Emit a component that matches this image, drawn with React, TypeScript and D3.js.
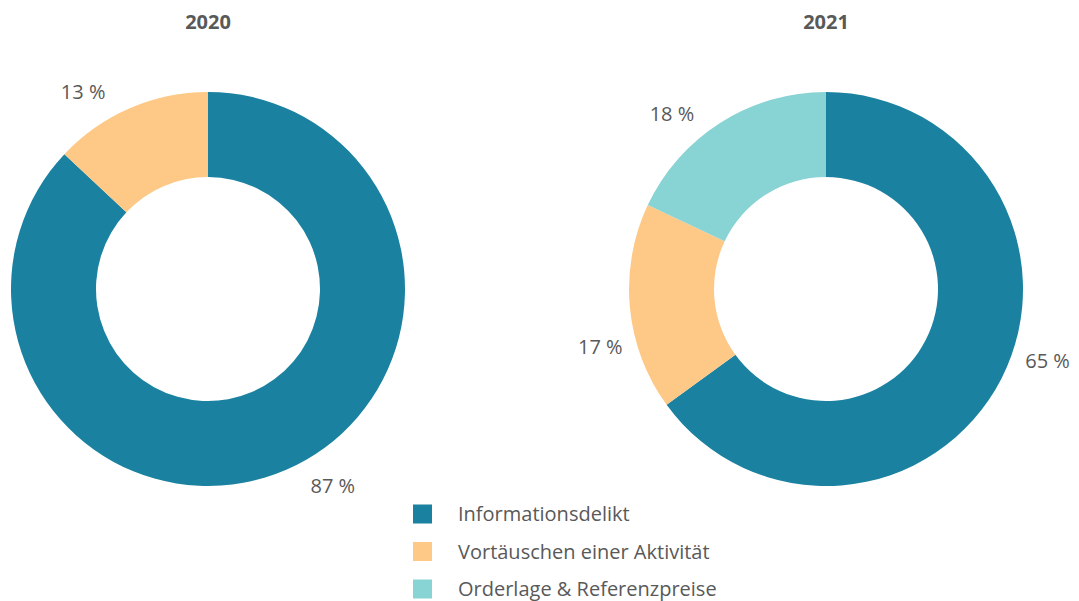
import React, { useEffect, useRef } from 'react';
import * as d3 from 'd3';

const categories = ['Informationsdelikt', 'Vortäuschen einer Aktivität', 'Orderlage & Referenzpreise'];
const colors = ['#1a82a0', '#fec986', '#88d3d3'];
const years = ['2020', '2021'];
const values2020 = [87, 13, 0];
const values2021 = [65, 17, 18];

const App = () => {
  const svgRef = useRef<SVGSVGElement>(null);

  useEffect(() => {
    document.body.style.margin = '0';
    const width = 1079;
    const height = 601;
    const font = '"Open Sans", "Noto Sans", sans-serif';
    const textColor = '#595959';

    const svg = d3.select(svgRef.current);
    svg.selectAll('*').remove();
    svg.attr('width', width).attr('height', height).style('display', 'block');

    const outer = 197;
    const inner = 112;
    const cx = d3.scalePoint().domain(years).range([208, 826]);
    const cy = 289;

    const color = d3.scaleOrdinal<string, string>().domain(categories).range(colors);

    const pie = d3.pie<number>().sort(null).value(d => d);
    const arc = d3.arc<d3.PieArcDatum<number>>().innerRadius(inner).outerRadius(outer);

    [values2020, values2021].forEach((vals, i) => {
      const year = years[i];
      const g = svg.append('g').attr('transform', `translate(${cx(year)},${cy})`);
      const arcs = pie(vals);

      g.selectAll('path')
        .data(arcs)
        .enter().append('path')
        .attr('d', arc)
        .attr('fill', (d, j) => color(categories[j]));

      // outside labels, slightly rotated back like the original layout
      const labelR = 233;
      const shift = (9 * Math.PI) / 180;
      g.selectAll('text.lbl')
        .data(arcs.filter(d => d.value > 0))
        .enter().append('text')
        .attr('class', 'lbl')
        .attr('x', d => Math.sin((d.startAngle + d.endAngle) / 2 - shift) * labelR)
        .attr('y', d => -Math.cos((d.startAngle + d.endAngle) / 2 - shift) * labelR)
        .attr('text-anchor', 'middle')
        .attr('dy', '0.35em')
        .attr('font-family', font)
        .attr('font-size', 20)
        .attr('fill', textColor)
        .text(d => `${d.value} %`);

      svg.append('text')
        .attr('x', cx(year))
        .attr('y', 29)
        .attr('text-anchor', 'middle')
        .attr('font-family', font)
        .attr('font-weight', 'bold')
        .attr('font-size', 20)
        .attr('fill', textColor)
        .text(year);
    });

    const legendY = d3.scalePoint().domain(categories).range([514, 589]);
    const legend = svg.append('g');
    categories.forEach(c => {
      legend.append('rect')
        .attr('x', 413)
        .attr('y', legendY(c)! - 9.5)
        .attr('width', 19)
        .attr('height', 19)
        .attr('fill', color(c));
      legend.append('text')
        .attr('x', 458)
        .attr('y', legendY(c)!)
        .attr('dy', '0.35em')
        .attr('font-family', font)
        .attr('font-size', 20)
        .attr('fill', textColor)
        .text(c);
    });
  }, []);

  return <svg ref={svgRef}></svg>;
};

export default App;
